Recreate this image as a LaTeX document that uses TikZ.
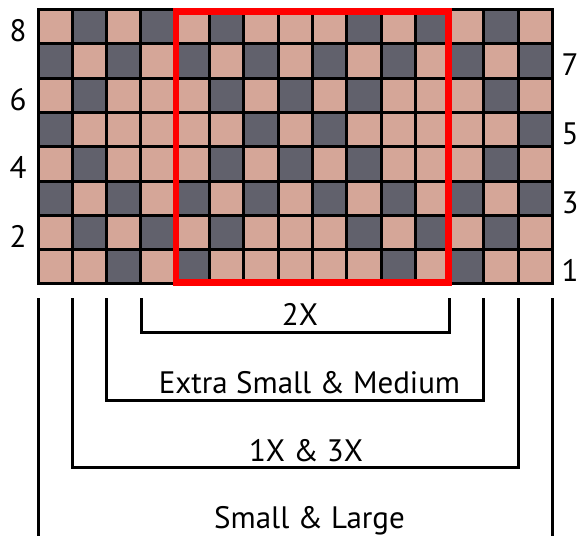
\documentclass[tikz,border=0pt]{standalone}
\usepackage{fontspec}
\setmainfont{PT Sans}
\usetikzlibrary{calc}
\definecolor{stitch0}{RGB}{213,166,152}
\definecolor{stitch1}{RGB}{97,97,108}
\definecolor{boxred}{RGB}{255,0,0}

\begin{document}
\begin{tikzpicture}[
  x=1pt, y=-1pt,
  every node/.style={font=\fontsize{31}{35}\selectfont, inner sep=0pt},
  cell/.style={draw=black, line width=3pt},
  bracket/.style={draw=black, line width=3pt},
  lbl/.style={anchor=base}
]
\useasboundingbox (0,0) rectangle (580,535);
% chart, top row first (1 = dark)
\foreach \rowvals [count=\r] in {
  {0,1,0,1,0,1,0,0,0,1,0,1,0,1,0},
  {1,0,1,0,1,0,1,0,1,0,1,0,1,0,1},
  {0,1,0,0,0,1,0,1,0,1,0,0,0,1,0},
  {1,0,0,0,0,0,1,0,1,0,0,0,0,0,1},
  {0,1,0,0,0,1,0,1,0,1,0,0,0,1,0},
  {1,0,1,0,1,0,1,0,1,0,1,0,1,0,1},
  {0,1,0,1,0,1,0,0,0,1,0,1,0,1,0},
  {0,0,1,0,1,0,0,0,0,0,1,0,1,0,0}} {
  \foreach \v [count=\c] in \rowvals {
    \filldraw[cell, fill=stitch\v] ({38+(\c-1)*34.3},{9.5+(\r-1)*34.3}) rectangle +(34.3,34.3);
  }
}
% size box
\draw[boxred, line width=6.5pt] (176,11.5) rectangle (448.5,282.5);

% row numbers
\foreach \k in {8,6,4,2}
  \node[lbl] (num\k) at (18,{9.5+(8.5-\k)*34.3+15}) {\k};
\foreach \k in {7,5,3,1}
  \node[lbl] (num\k) at (570,{9.5+(8.5-\k)*34.3+15}) {\k};

% brackets
\coordinate (twoxl) at (141.2,298);
\coordinate (twoxr) at (449.6,298);
\coordinate (xsml) at (106.6,298);
\coordinate (xsmr) at (483.9,298);
\coordinate (onexl) at (72.3,298);
\coordinate (onexr) at (518.2,298);
\coordinate (sml) at (38,298);
\coordinate (smr) at (552.5,298);

\draw[bracket] (twoxl) -- ++(0,34) -| (twoxr);
\draw[bracket] (xsml) -- ++(0,102) -| (xsmr);
\draw[bracket] (onexl) -- ++(0,169) -| (onexr);
\draw[bracket] (sml) -- ++(0,240);
\draw[bracket] (smr) -- ++(0,240);

\node[lbl] (twox) at (300,325) {2X};
\node[lbl] (xsm) at (309.5,393) {Extra Small \& Medium};
\node[lbl] (onex) at (306,461) {1X \& 3X};
\node[lbl] (sm) at (309.5,528) {Small \& Large};
\end{tikzpicture}
\end{document}
